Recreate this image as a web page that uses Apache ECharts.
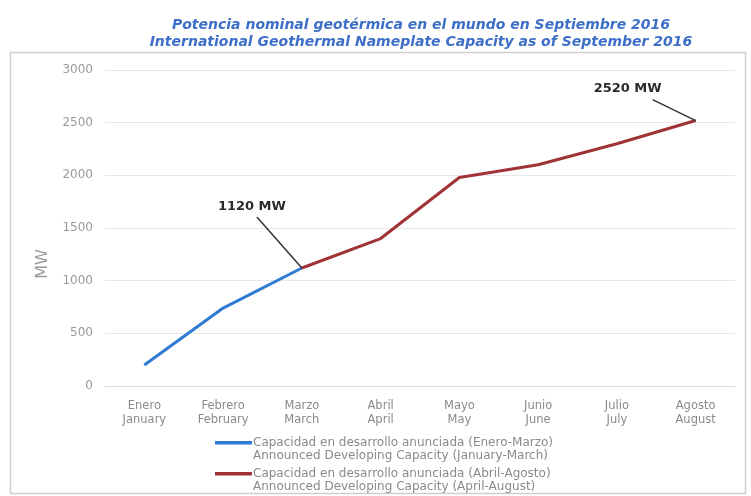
<!DOCTYPE html>
<html>
<head>
<meta charset="utf-8">
<script src="https://cdn.jsdelivr.net/npm/echarts@6/dist/echarts.min.js"></script>
<style>
  html, body { margin: 0; padding: 0; background: #fff; }
  #chart { width: 751px; height: 496px; }
</style>
</head>
<body>
<div id="chart"></div>
<script>
const months = [
  'Enero\nJanuary', 'Febrero\nFebruary', 'Marzo\nMarch', 'Abril\nApril',
  'Mayo\nMay', 'Junio\nJune', 'Julio\nJuly', 'Agosto\nAugust'
]
const janToMar = [200, 740, 1120, null, null, null, null, null]
const aprToAug = [null, null, 1120, 1400, 1980, 2100, 2300, 2520]
const yTicks = { min: 0, max: 3000, interval: 500 }

const nameBlue = 'Capacidad en desarrollo anunciada (Enero-Marzo)\nAnnounced Developing Capacity (January-March)'
const nameRed = 'Capacidad en desarrollo anunciada (Abril-Agosto)\nAnnounced Developing Capacity (April-August)'

const FONT = '"DejaVu Sans", sans-serif'
// bar sits on the first text line
const legendIcon = 'path://M0,7L37,7L37,10.5L0,10.5Z M0,0L0.01,0L0.01,0.01Z M0,30L0.01,30L0.01,29.99Z'

const chart = echarts.init(document.getElementById('chart'))

chart.setOption({
  animation: false,
  backgroundColor: '#fff',
  title: {
    text: 'Potencia nominal geotérmica en el mundo en Septiembre 2016\nInternational Geothermal Nameplate Capacity as of September 2016',
    left: 416,
    textAlign: 'center',
    top: 12,
    textStyle: {
      fontFamily: FONT,
      fontSize: 14,
      fontWeight: 'bold',
      fontStyle: 'italic',
      color: '#3d6fc8',
      lineHeight: 17
    }
  },
  legend: {
    orient: 'vertical',
    left: 215,
    top: 434,
    padding: 0,
    itemWidth: 37,
    itemHeight: 30,
    itemGap: 1,
    icon: legendIcon,
    textStyle: {
      fontFamily: FONT,
      fontSize: 12,
      color: '#8a8a8a',
      lineHeight: 13,
      padding: [0, 0, 0, -4]
    },
    data: [nameBlue, nameRed]
  },
  grid: { left: 105, right: 16, top: 70, bottom: 110 },
  xAxis: {
    type: 'category',
    data: months,
    boundaryGap: true,
    axisLine: { lineStyle: { color: '#dcdcdc' } },
    axisTick: { show: false },
    axisLabel: {
      fontFamily: FONT,
      fontSize: 11.5,
      color: '#8a8a8a',
      lineHeight: 14,
      margin: 13
    }
  },
  yAxis: {
    type: 'value',
    min: yTicks.min,
    max: yTicks.max,
    interval: yTicks.interval,
    name: 'MW',
    nameLocation: 'middle',
    nameGap: 54,
    nameTextStyle: {
      fontFamily: FONT,
      fontSize: 16,
      color: '#999',
      padding: [0, 72, 0, 0]
    },
    axisLine: { show: false },
    axisTick: { show: false },
    axisLabel: {
      fontFamily: FONT,
      fontSize: 12,
      color: '#999',
      margin: 12,
      formatter: (v) => String(v)
    },
    splitLine: { lineStyle: { color: '#e8e8e8' } }
  },
  series: [
    {
      name: nameBlue,
      type: 'line',
      data: janToMar,
      showSymbol: false,
      symbol: 'none',
      lineStyle: { color: '#2f7bd3', width: 3 },
      itemStyle: { color: '#2f7bd3' }
    },
    {
      name: nameRed,
      type: 'line',
      data: aprToAug,
      showSymbol: false,
      symbol: 'none',
      lineStyle: { color: '#a03336', width: 3 },
      itemStyle: { color: '#a03336' }
    }
  ]
})

// callouts anchored to the data points through the chart's own scales
const callout = (idx, value, dx, dy, lx, ly) => {
  const p = chart.convertToPixel({ xAxisIndex: 0, yAxisIndex: 0 }, [idx, value])
  return [
    {
      type: 'line',
      shape: { x1: p[0] + lx, y1: p[1] + ly, x2: p[0], y2: p[1] },
      style: { stroke: '#333', lineWidth: 1.5 },
      z: 10
    },
    {
      type: 'text',
      x: p[0] + dx,
      y: p[1] + dy,
      style: {
        text: value + ' MW',
        fontFamily: '"DejaVu Sans", sans-serif',
        fontSize: 13,
        fontWeight: 'bold',
        fill: '#2b2b2b',
        align: 'center',
        verticalAlign: 'middle'
      },
      z: 10
    }
  ]
}

chart.setOption({
  graphic: [
    {
      type: 'rect',
      shape: { x: 10.5, y: 52.5, width: 735, height: 441 },
      style: { fill: 'none', stroke: '#cfcfcf', lineWidth: 1.5 },
      silent: true
    },
    ...callout(2, janToMar[2], -50, -61, -45, -51),
    ...callout(7, aprToAug[7], -68, -32, -43, -21)
  ]
})
</script>
</body>
</html>
